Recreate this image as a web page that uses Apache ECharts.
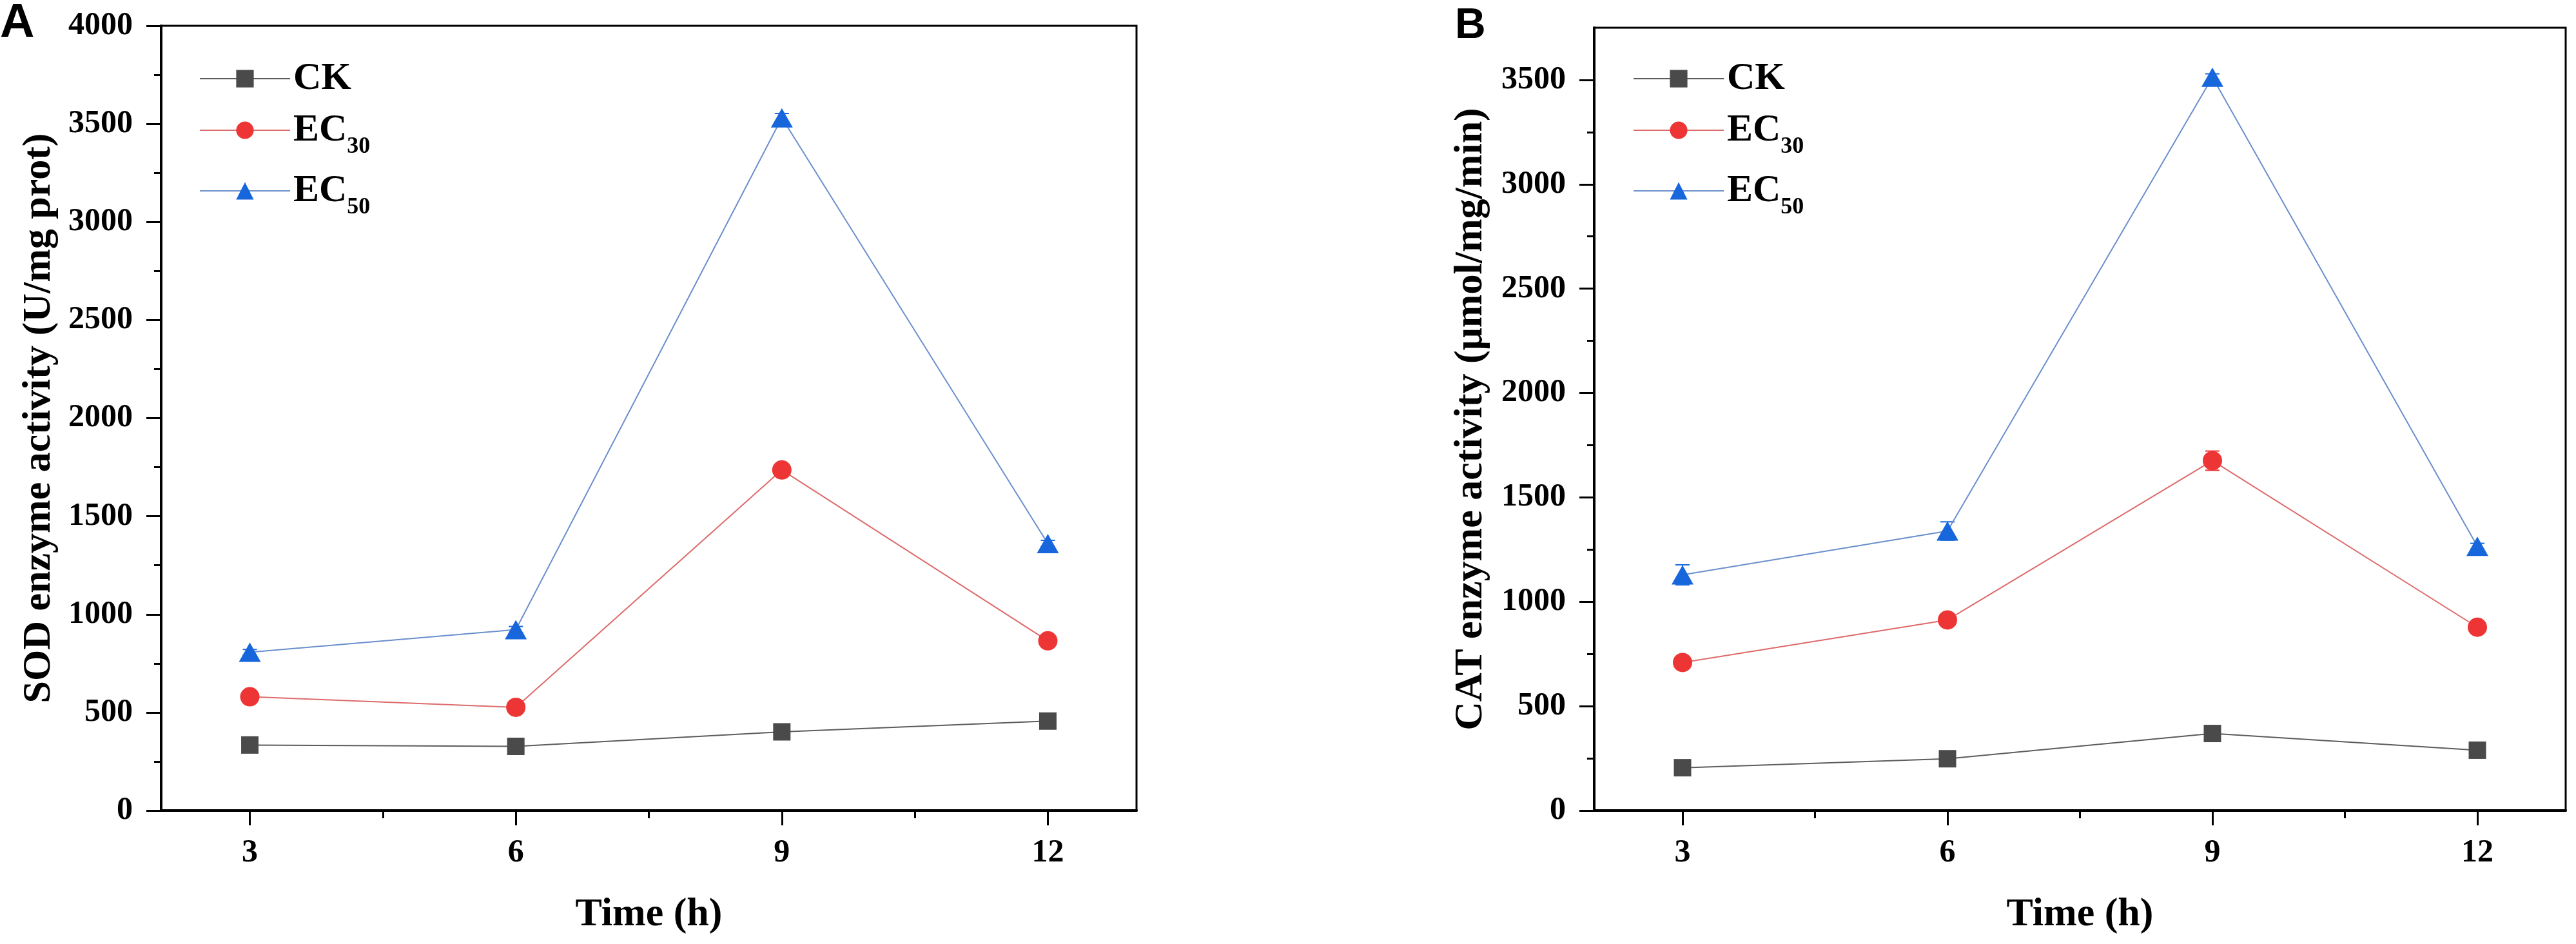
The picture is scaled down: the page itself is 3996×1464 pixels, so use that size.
<!DOCTYPE html>
<html>
<head>
<meta charset="utf-8">
<title>SOD and CAT enzyme activity</title>
<script src="https://cdn.jsdelivr.net/npm/echarts@6/dist/echarts.min.js"></script>
<style>
    html, body { margin: 0; padding: 0; background: #fff; }
    #chart { width: 3996px; height: 1464px; }
</style>
</head>
<body>
<div id="chart"></div>
<script>

// Data
// ------------------------------

var hours = [3, 6, 9, 12];
var seriesNames = ['CK', 'EC30', 'EC50'];

// Panel A - SOD (U/mg prot)
var sodCK = [334, 327, 401, 456];
var sodEC30 = [580, 526, 1736, 865];
var sodEC50 = [807, 922, 3531, 1361];
var sodErrCK = [14, 12, 15, 16];
var sodErrEC30 = [16, 14, 24, 18];
var sodErrEC50 = [14, 16, 22, 16];

// Panel B - CAT (umol/mg/min)
var catCK = [205, 248, 369, 289];
var catEC30 = [709, 913, 1676, 878];
var catEC50 = [1129, 1339, 3513, 1266];
var catErrCK = [12, 14, 12, 14];
var catErrEC30 = [18, 16, 46, 16];
var catErrEC50 = [48, 44, 16, 14];

// Tick values
var xTicks = [3, 6, 9, 12];
var xMinorTicks = [4.5, 7.5, 10.5];
var sodTicks = [0, 500, 1000, 1500, 2000, 2500, 3000, 3500, 4000];
var sodMinorTicks = [250, 750, 1250, 1750, 2250, 2750, 3250, 3750];
var catTicks = [0, 500, 1000, 1500, 2000, 2500, 3000, 3500];
var catMinorTicks = [250, 750, 1250, 1750, 2250, 2750, 3250];


// Setup
// ------------------------------

var chart = echarts.init(document.getElementById('chart'), null, { renderer: 'canvas' });

var serif = '"Liberation Serif", "DejaVu Serif", serif';
var sans = '"Liberation Sans", Arial, sans-serif';

var markerColors = { CK: '#4a4a4a', EC30: '#ee3535', EC50: '#1766dc' };
var lineColors = { CK: '#5c5c5c', EC30: '#dd6b6b', EC50: '#6b8fcc' };
var symbols = { CK: 'rect', EC30: 'circle', EC50: 'triangle' };
var symbolSizes = { CK: 27, EC30: 30, EC50: [34, 30] };

function pairs(values) {
    return hours.map(function (h, i) { return [h, values[i]]; });
}

function errTriples(values, errs) {
    return hours.map(function (h, i) { return [h, values[i] - errs[i], values[i] + errs[i]]; });
}

function plainNumber(v) {
    return String(v);
}

function lineSeries(name, values, axisIdx) {
    return {
        name: name,
        type: 'line',
        xAxisIndex: axisIdx,
        yAxisIndex: axisIdx,
        data: pairs(values),
        symbol: symbols[name],
        symbolSize: symbolSizes[name],
        showAllSymbol: true,
        lineStyle: { color: lineColors[name], width: 2 },
        itemStyle: { color: markerColors[name] },
        emphasis: { disabled: true },
        animation: false,
        z: 3
    };
}

function errorSeries(name, values, errs, axisIdx) {
    var color = markerColors[name];
    return {
        name: name + ' error',
        type: 'custom',
        xAxisIndex: axisIdx,
        yAxisIndex: axisIdx,
        data: errTriples(values, errs),
        encode: { x: 0, y: [1, 2] },
        renderItem: function (params, api) {
            var x = api.value(0);
            var top = api.coord([x, api.value(2)]);
            var bot = api.coord([x, api.value(1)]);
            var half = 11;
            var style = { stroke: color, lineWidth: 2 };
            return {
                type: 'group',
                children: [
                    { type: 'line', shape: { x1: top[0], y1: top[1], x2: bot[0], y2: bot[1] }, style: style },
                    { type: 'line', shape: { x1: top[0] - half, y1: top[1], x2: top[0] + half, y2: top[1] }, style: style },
                    { type: 'line', shape: { x1: bot[0] - half, y1: bot[1], x2: bot[0] + half, y2: bot[1] }, style: style }
                ]
            };
        },
        animation: false,
        silent: true,
        z: 2
    };
}

// legend text: subscripts sit at the bottom of a taller line
var legendRich = {
    b: { fontFamily: serif, fontWeight: 'bold', fontSize: 60, lineHeight: 88, verticalAlign: 'middle', color: '#000' },
    s: { fontFamily: serif, fontWeight: 'bold', fontSize: 36, lineHeight: 88, verticalAlign: 'bottom', color: '#000' }
};

function legendFor(left) {
    return {
        data: seriesNames,
        orient: 'vertical',
        left: left,
        top: 92,
        itemWidth: 140,
        itemHeight: 34,
        itemGap: 20,
        padding: 0,
        selectedMode: false,
        formatter: function (name) {
            if (name === 'CK') {
                return '{b|CK}';
            }
            return '{b|EC}{s|' + name.slice(2) + '}';
        },
        textStyle: { rich: legendRich }
    };
}

function mainXAxis(gridIdx) {
    return {
        type: 'value',
        gridIndex: gridIdx,
        min: 2,
        max: 13,
        interval: 1,
        name: 'Time (h)',
        nameLocation: 'middle',
        nameGap: 131,
        nameTextStyle: { fontFamily: serif, fontWeight: 'bold', fontSize: 62, color: '#000' },
        axisLine: { show: true, lineStyle: { color: '#000', width: 4 } },
        axisTick: { show: true, length: 23, customValues: xTicks, lineStyle: { color: '#000', width: 3 } },
        axisLabel: { customValues: xTicks, formatter: plainNumber, margin: 41, fontFamily: serif, fontWeight: 'bold', fontSize: 50, color: '#000' },
        splitLine: { show: false }
    };
}

function minorXAxis(gridIdx) {
    return {
        type: 'value',
        gridIndex: gridIdx,
        position: 'bottom',
        min: 2,
        max: 13,
        interval: 1,
        axisLine: { show: false },
        axisTick: { show: true, length: 12, customValues: xMinorTicks, lineStyle: { color: '#000', width: 3 } },
        axisLabel: { show: false },
        splitLine: { show: false }
    };
}

function mainYAxis(gridIdx, max, ticks, title, gap) {
    return {
        type: 'value',
        gridIndex: gridIdx,
        min: 0,
        max: max,
        interval: 500,
        name: title,
        nameLocation: 'middle',
        nameGap: gap,
        nameTextStyle: { fontFamily: serif, fontWeight: 'bold', fontSize: 62, color: '#000' },
        axisLine: { show: true, lineStyle: { color: '#000', width: 4 } },
        axisTick: { show: true, length: 23, customValues: ticks, lineStyle: { color: '#000', width: 3 } },
        axisLabel: { customValues: ticks, formatter: plainNumber, margin: 44, fontFamily: serif, fontWeight: 'bold', fontSize: 50, color: '#000' },
        splitLine: { show: false }
    };
}

function minorYAxis(gridIdx, max, ticks) {
    return {
        type: 'value',
        gridIndex: gridIdx,
        position: 'left',
        min: 0,
        max: max,
        interval: 500,
        axisLine: { show: false },
        axisTick: { show: true, length: 11, customValues: ticks, lineStyle: { color: '#000', width: 3 } },
        axisLabel: { show: false },
        splitLine: { show: false }
    };
}


// Options
// ------------------------------

chart.setOption({
    backgroundColor: '#fff',
    animation: false,

    title: [
        { text: 'A', left: 0, top: 0, padding: 0, textStyle: { fontFamily: sans, fontWeight: 'bold', fontSize: 74, color: '#000' } },
        { text: 'B', left: 2257, top: 8, padding: 0, textStyle: { fontFamily: sans, fontWeight: 'bold', fontSize: 66, color: '#000' } }
    ],

    legend: [legendFor(309), legendFor(2533)],

    grid: [
        { left: 250, top: 40, width: 1513, height: 1217, show: true, borderColor: '#000', borderWidth: 3, backgroundColor: 'transparent' },
        { left: 2473, top: 43, width: 1507, height: 1214, show: true, borderColor: '#000', borderWidth: 3, backgroundColor: 'transparent' }
    ],

    // axis 0/1 -> panel A (main / minor ticks), axis 2/3 -> panel B
    xAxis: [mainXAxis(0), minorXAxis(0), mainXAxis(1), minorXAxis(1)],

    yAxis: [
        mainYAxis(0, 4000, sodTicks, 'SOD enzyme activity (U/mg prot)', 158),
        minorYAxis(0, 4000, sodMinorTicks),
        mainYAxis(1, 3750, catTicks, 'CAT enzyme activity (\u03bcmol/mg/min)', 160),
        minorYAxis(1, 3750, catMinorTicks)
    ],

    series: [
        errorSeries('CK', sodCK, sodErrCK, 0),
        errorSeries('EC30', sodEC30, sodErrEC30, 0),
        errorSeries('EC50', sodEC50, sodErrEC50, 0),
        lineSeries('CK', sodCK, 0),
        lineSeries('EC30', sodEC30, 0),
        lineSeries('EC50', sodEC50, 0),

        errorSeries('CK', catCK, catErrCK, 2),
        errorSeries('EC30', catEC30, catErrEC30, 2),
        errorSeries('EC50', catEC50, catErrEC50, 2),
        lineSeries('CK', catCK, 2),
        lineSeries('EC30', catEC30, 2),
        lineSeries('EC50', catEC50, 2)
    ]
});

</script>
</body>
</html>
